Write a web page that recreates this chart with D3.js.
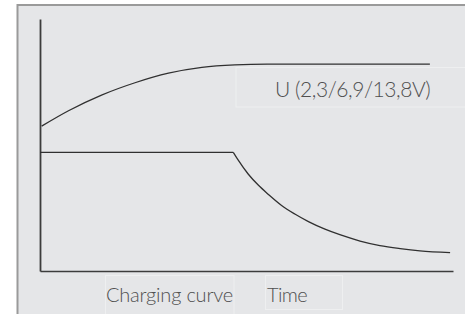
<!DOCTYPE html>
<html>
<head>
<meta charset="utf-8">
<script src="https://cdn.jsdelivr.net/npm/d3@7"></script>
<style>
  html, body { margin: 0; padding: 0; background: #ffffff; }
  svg { display: block; }
  text { font-family: "Lato", "Open Sans", sans-serif; font-weight: 300; }
</style>
</head>
<body>
<svg id="chart" width="465" height="314"></svg>
<script>
// ---- data (time and level in relative units 0..100) ----
const voltageTime  = [0.4, 6.9, 14.9, 23.0, 31.1, 39.2, 47.2, 55.0, 94.4];
const voltageValue = [57.5, 63.6, 69.8, 74.7, 78.5, 80.8, 81.8, 82.1, 82.1];

const currentTime  = [0, 46.8, 48.0, 50.4, 52.9, 55.3, 58.5, 61.7, 65.0, 69.0, 72.6, 77.5, 82.3, 87.2, 92.0, 99.3];
const currentValue = [47.1, 47.1, 44.0, 38.5, 34.0, 30.4, 26.0, 22.6, 19.6, 16.6, 14.4, 11.9, 10.1, 8.9, 8.0, 7.3];

const seriesLabel = "U (2,3/6,9/13,8V)";
const chartTitle  = "Charging curve";
const xAxisLabel  = "Time";

// ---- layout ----
const svg = d3.select("#chart");
const W = 465, H = 314;

// panel
svg.append("rect")
  .attr("x", 17.5).attr("y", 5).attr("width", W).attr("height", H)
  .attr("fill", "#e5e6e8").attr("stroke", "#9a9a9a").attr("stroke-width", 2);

const x = d3.scaleLinear().domain([0, 100]).range([40, 453]);
const y = d3.scaleLinear().domain([0, 100]).range([271, 19]);

// faint text boxes
const boxes = [
  {x0: 236, y0: 67.5, x1: 470, y1: 107},
  {x0: 105.5, y0: 275.5, x1: 234, y1: 320},
  {x0: 265.5, y0: 275.5, x1: 342.5, y1: 309.5}
];
svg.selectAll("rect.box").data(boxes).enter().append("rect")
  .attr("class", "box")
  .attr("x", d => d.x0).attr("y", d => d.y0)
  .attr("width", d => d.x1 - d.x0).attr("height", d => d.y1 - d.y0)
  .attr("fill", "none").attr("stroke", "#eeeff0").attr("stroke-width", 1);

// axes (lines only)
const yAxis = svg.append("g").attr("transform", `translate(${x(0)},0)`)
  .call(d3.axisLeft(y).tickValues([]).tickSizeOuter(0));
const xAxis = svg.append("g").attr("transform", `translate(0,${y(0)})`)
  .call(d3.axisBottom(x).tickValues([]).tickSizeOuter(0));
yAxis.select(".domain").attr("stroke", "#3c3c3c").attr("stroke-width", 1.8);
xAxis.select(".domain").attr("stroke", "#3c3c3c").attr("stroke-width", 1.6);

// voltage curve
const vData = voltageTime.map((t, i) => [t, voltageValue[i]]);
svg.append("path")
  .datum(vData)
  .attr("fill", "none").attr("stroke", "#303030").attr("stroke-width", 1.3)
  .attr("d", d3.line().x(d => x(d[0])).y(d => y(d[1])).curve(d3.curveMonotoneX));

// current curve: constant phase (straight) then decay (smooth)
const cData = currentTime.map((t, i) => [t, currentValue[i]]);
svg.append("path")
  .datum(cData.slice(0, 2))
  .attr("fill", "none").attr("stroke", "#303030").attr("stroke-width", 1.3)
  .attr("d", d3.line().x(d => x(d[0])).y(d => y(d[1])));
svg.append("path")
  .datum(cData.slice(1))
  .attr("fill", "none").attr("stroke", "#303030").attr("stroke-width", 1.3)
  .attr("d", d3.line().x(d => x(d[0])).y(d => y(d[1])).curve(d3.curveMonotoneX));

// texts
svg.append("text").attr("x", 275).attr("y", 96.5)
  .attr("font-size", 21).attr("letter-spacing", -0.45).attr("fill", "#505050").text(seriesLabel);
svg.append("text").attr("x", 106).attr("y", 302)
  .attr("font-size", 20).attr("letter-spacing", -0.2).attr("fill", "#505050").text(chartTitle);
svg.append("text").attr("x", 267).attr("y", 302)
  .attr("font-size", 20).attr("letter-spacing", -0.6).attr("fill", "#505050").text(xAxisLabel);
</script>
</body>
</html>
